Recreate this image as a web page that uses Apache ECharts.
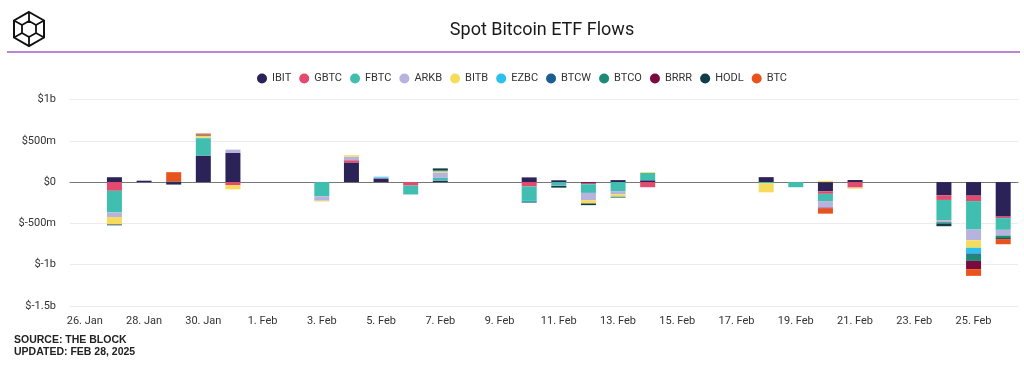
<!DOCTYPE html>
<html>
<head>
<meta charset="utf-8">
<script src="https://cdn.jsdelivr.net/npm/echarts@6/dist/echarts.min.js"></script>
<style>
html,body{margin:0;padding:0;background:#fff;}
#c{width:1024px;height:369px;}
</style>
</head>
<body>
<div id="c"></div>
<script>
// Calendar categories on the x axis (one per day)
const calendarDays = ["26. Jan","27. Jan","28. Jan","29. Jan","30. Jan","31. Jan","1. Feb","2. Feb","3. Feb","4. Feb","5. Feb","6. Feb","7. Feb","8. Feb","9. Feb","10. Feb","11. Feb","12. Feb","13. Feb","14. Feb","15. Feb","16. Feb","17. Feb","18. Feb","19. Feb","20. Feb","21. Feb","22. Feb","23. Feb","24. Feb","25. Feb","26. Feb"];
// Trading days with flows
const tradingDays = ["27. Jan","28. Jan","29. Jan","30. Jan","31. Jan","3. Feb","4. Feb","5. Feb","6. Feb","7. Feb","10. Feb","11. Feb","12. Feb","13. Feb","14. Feb","18. Feb","19. Feb","20. Feb","21. Feb","24. Feb","25. Feb","26. Feb"];
// Flows in $ millions, aligned with tradingDays
const IBIT = [59, 17, -30, 321, 352, 0, 238, 45, 0, 15, 57, 22, -10, 24, 22, 60, 0, -112, 25, -159, -164, -418];
const GBTC = [-105, 0, 0, 0, -36, 0, 27, 0, -42, 0, -53, 0, -16, 0, -62, 0, 0, -30, -66, -57, -66, -18];
const FBTC = [-262, 0, 0, 211, 0, -173, 0, 0, -108, 36, -165, -40, -105, -109, 88, -14, -62, -88, 0, -245, -345, -142];
const ARKB = [-56, 0, 0, 8, 41, -52, 43, 10, 0, 66, 0, -5, -88, -40, 0, 0, 0, -80, 0, -25, -130, -70];
const BITB = [-90, 0, 0, 24, -52, -10, 18, 0, 0, 14, 0, 0, -40, -28, 10, -110, 0, 15, -14, 0, -90, 0];
const EZBC = [0, 0, 0, 0, 0, 0, 0, 10, 0, 0, -14, 0, 0, 0, 0, 0, 0, 0, 0, 0, -70, 0];
const BTCW = [0, 0, 0, 0, 0, 0, 0, 0, 0, 0, 0, 0, 0, 0, 0, 0, 0, 0, 0, 0, -16, 0];
const BTCO = [0, 0, 0, 0, 0, 0, 0, 0, 0, 10, -12, 0, 0, -12, 0, 0, 0, 0, 0, -18, -73, -30];
const BRRR = [0, 0, 0, 0, 0, 0, 0, 0, 0, 0, 0, 0, 0, 0, 0, 0, 0, -10, 0, 0, -100, 0];
const HODL = [-10, 0, 8, 10, 0, 0, 0, 0, 0, 25, -5, -22, -20, 0, 0, 0, 0, 0, 0, -30, 0, -12];
const BTC  = [0, 0, 112, 14, 0, 0, 0, 0, 0, 0, 0, 0, 0, 0, 0, 0, 0, -62, 0, 0, -81, -62];

const seriesNames = ["IBIT","GBTC","FBTC","ARKB","BITB","EZBC","BTCW","BTCO","BRRR","HODL","BTC"];
const seriesValues = [IBIT,GBTC,FBTC,ARKB,BITB,EZBC,BTCW,BTCO,BRRR,HODL,BTC];
const seriesColors = ["#2b2358","#e4496e","#40bfb1","#b8b3de","#f6dc5c","#2dc0ee","#1b5e91","#1d8a78","#7a0b3e","#0f3e49","#e9531b"];
const yTicks = [-1500,-1000,-500,0,500,1000];

function fmt(v){
  if (v === 0) return "$0";
  const a = Math.abs(v);
  const s = v < 0 ? "-" : "";
  if (a >= 1000) return "$" + s + (a/1000) + "b";
  return "$" + s + a + "m";
}

const chart = echarts.init(document.getElementById('c'), null, {renderer:'canvas'});

const series = seriesNames.map((name, i) => ({
  name: name,
  type: 'bar',
  stack: 'flows',
  barWidth: 15,
  itemStyle: {color: seriesColors[i]},
  emphasis: {disabled: true},
  data: calendarDays.map(d => {
    const k = tradingDays.indexOf(d);
    return k < 0 ? '-' : seriesValues[i][k];
  })
}));

const hex = [[29,12],[44,20.5],[44,37.5],[29,46],[14,37.5],[14,20.5]];
chart.setOption({
  animation: false,
  textStyle: {fontFamily: 'Roboto, sans-serif'},
  title: {
    text: 'Spot Bitcoin ETF Flows',
    left: 537, top: 16, textAlign: 'center',
    textStyle: {fontSize: 18, fontWeight: 'normal', color: '#1a1a1a', fontFamily: 'Roboto, sans-serif'}
  },
  legend: {
    data: seriesNames,
    top: 68,
    left: 252,
    icon: 'circle',
    itemWidth: 10, itemHeight: 10, itemGap: 8,
    textStyle: {fontSize: 11, color: '#333'}
  },
  grid: {left: 70, right: 6, top: 99.5, bottom: 63, containLabel: false},
  xAxis: {
    type: 'category',
    data: calendarDays,
    axisTick: {show: false},
    axisLine: {lineStyle: {color: '#777', width: 1}},
    axisLabel: {interval: 1, color: '#333', fontSize: 11, margin: 10}
  },
  yAxis: {
    type: 'value',
    min: -1500, max: 1000, interval: 500,
    axisLabel: {formatter: fmt, color: '#333', fontSize: 11, margin: 14},
    splitLine: {lineStyle: {color: '#ececec'}},
    axisLine: {show: false}, axisTick: {show: false}
  },
  graphic: [
    {type: 'line', shape: {x1: 7, y1: 52, x2: 1020, y2: 52}, style: {stroke: '#a45cc9', lineWidth: 1.5}},
    {type: 'polygon', shape: {points: hex}, style: {fill: 'none', stroke: '#111', lineWidth: 2}},
    {type: 'polyline', shape: {points: [[14,20.5],[22,25],[29,21],[36,25],[44,20.5]]}, style: {fill: 'none', stroke: '#111', lineWidth: 1.8}},
    {type: 'polyline', shape: {points: [[22,25],[22,33],[29,37],[36,33],[36,25]]}, style: {fill: 'none', stroke: '#111', lineWidth: 1.8}},
    {type: 'polyline', shape: {points: [[14,37.5],[22,33]]}, style: {fill: 'none', stroke: '#111', lineWidth: 1.8}},
    {type: 'polyline', shape: {points: [[44,37.5],[36,33]]}, style: {fill: 'none', stroke: '#111', lineWidth: 1.8}},
    {type: 'polyline', shape: {points: [[29,12],[29,21]]}, style: {fill: 'none', stroke: '#111', lineWidth: 1.8}},
    {type: 'polyline', shape: {points: [[29,37],[29,46]]}, style: {fill: 'none', stroke: '#111', lineWidth: 1.8}},
    {type: 'text', left: 14, top: 335, style: {text: 'SOURCE: THE BLOCK', fill: '#222', font: 'bold 10.5px "Liberation Sans", Arial, sans-serif'}},
    {type: 'text', left: 14, top: 347, style: {text: 'UPDATED: FEB 28, 2025', fill: '#222', font: 'bold 10.5px "Liberation Sans", Arial, sans-serif'}}
  ],
  series: series
});
</script>
</body>
</html>
